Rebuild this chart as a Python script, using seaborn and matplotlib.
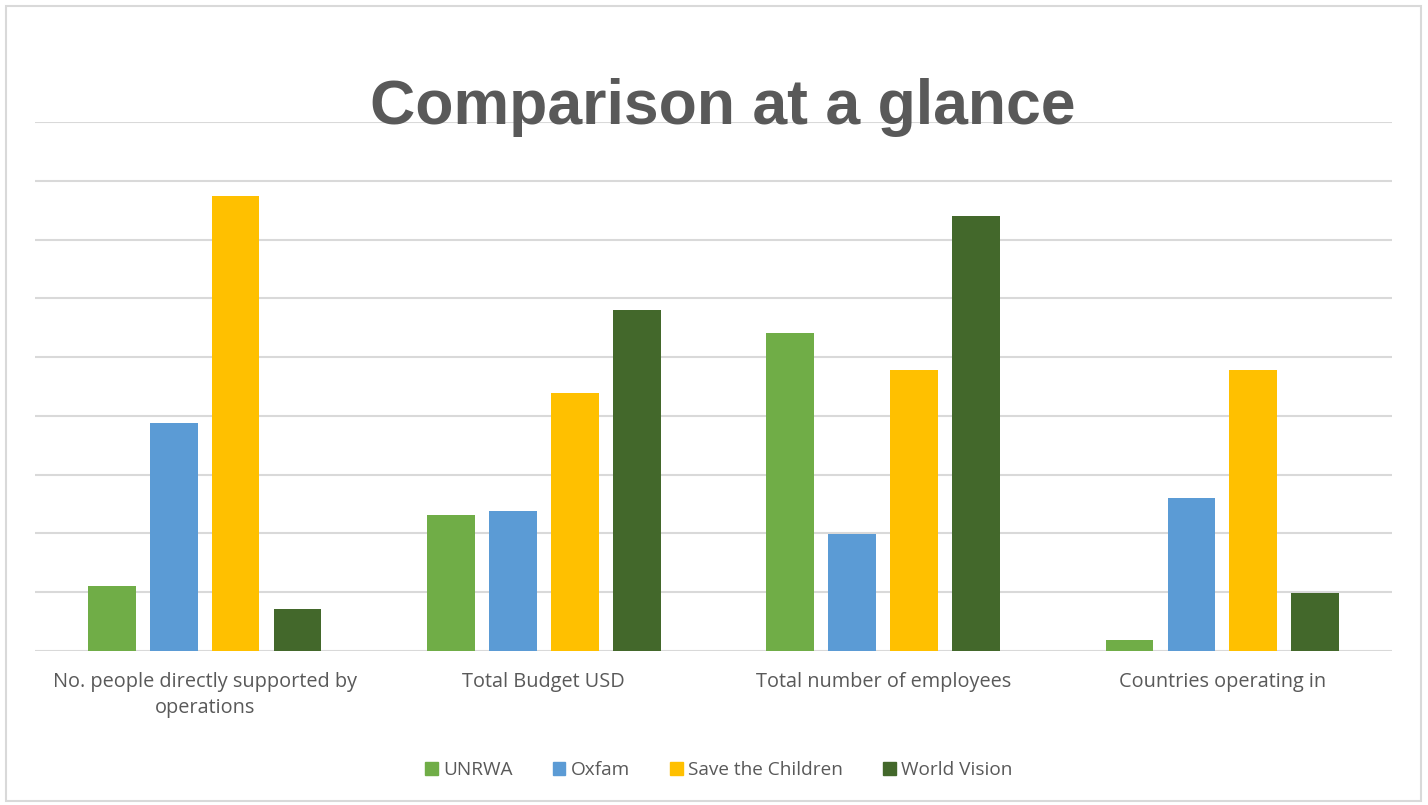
import matplotlib
matplotlib.use("Agg")
import matplotlib.pyplot as plt
import seaborn as sns
import pandas as pd
from matplotlib.patches import Rectangle

categories = ["No. people directly supported by\noperations", "Total Budget USD",
              "Total number of employees", "Countries operating in"]
organisations = ["UNRWA", "Oxfam", "Save the Children", "World Vision"]
unrwa = [1.10, 2.31, 5.41, 0.19]
oxfam = [3.88, 2.38, 1.99, 2.60]
save_children = [7.74, 4.39, 4.78, 4.78]
world_vision = [0.71, 5.80, 7.40, 0.99]
colors = ["#70AD47", "#5B9BD5", "#FFC000", "#43682B"]

rows = []
for org, vals in zip(organisations, [unrwa, oxfam, save_children, world_vision]):
    for cat, v in zip(categories, vals):
        rows.append({"Category": cat, "Organisation": org, "Value": v})
df = pd.DataFrame(rows)

sns.set_theme(style="white")
plt.rcParams['font.family'] = ['Open Sans', 'DejaVu Sans']

fig = plt.figure(figsize=(14.28, 8.05), dpi=100)
ax = fig.add_axes([35/1428, 1 - 651/805, 1357/1428, 529/805])

sns.barplot(data=df, x="Category", y="Value", hue="Organisation",
            hue_order=organisations, order=categories, palette=colors,
            width=0.73, gap=0.23, ax=ax, saturation=1, edgecolor="none",
            errorbar=None, zorder=3)

ax.set_ylim(0, 9)
ax.set_xlim(-0.5, 3.5)
ax.set_yticks(range(0, 10))
ax.set_yticklabels([])
ax.tick_params(axis='y', length=0)
ax.tick_params(axis='x', length=0, pad=15, labelsize=14.3, labelcolor="#595959")
for lbl in ax.get_xticklabels():
    lbl.set_linespacing(1.38)
ax.grid(axis='y', color="#D9D9D9", linewidth=1.5, zorder=0)
ax.set_axisbelow(True)
for s in ax.spines.values():
    s.set_visible(False)
ax.set_xlabel("")
ax.set_ylabel("")

ax.legend_.remove()
handles = [Rectangle((0, 0), 1, 1, color=c) for c in colors]
fig.legend(handles, organisations, loc="center", bbox_to_anchor=(719/1428, 1 - 770/805),
           ncol=4, frameon=False, fontsize=13.7, labelcolor="#595959",
           handlelength=0.65, handleheight=0.65, handletextpad=0.3, columnspacing=2.1)

fig.text(723/1428, 1 - 124/805, "Comparison at a glance", ha="center", va="baseline",
         fontsize=45, fontweight="bold", color="#595959", family="Liberation Sans")

fig.patches.append(Rectangle((6/1428, 4/805), 1415/1428, 795/805, transform=fig.transFigure,
                             fill=False, edgecolor="#D9D9D9", linewidth=1.5))

fig.savefig("out.png", dpi=100)
